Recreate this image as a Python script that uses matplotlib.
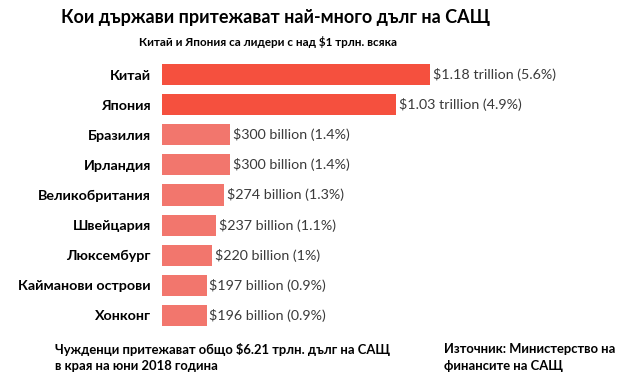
import matplotlib.pyplot as plt

countries = ['Китай', 'Япония', 'Бразилия', 'Ирландия', 'Великобритания',
             'Швейцария', 'Люксембург', 'Кайманови острови', 'Хонконг']
holdings = [1180, 1030, 300, 300, 274, 237, 220, 197, 196]   # billion $
value_labels = ['$1.18 trillion (5.6%)', '$1.03 trillion (4.9%)',
                '$300 billion (1.4%)', '$300 billion (1.4%)',
                '$274 billion (1.3%)', '$237 billion (1.1%)',
                '$220 billion (1%)', '$197 billion (0.9%)',
                '$196 billion (0.9%)']

plt.rcParams['font.family'] = ['Lato', 'Open Sans', 'DejaVu Sans']

fig = plt.figure(figsize=(6.3, 3.78), dpi=100)
ax = fig.add_axes([162/630, 1 - 330.5/378, 468/630, 271/378])

colors = ['#F5503E' if v > 1000 else '#F2766D' for v in holdings]
y = range(len(countries))
ax.barh(y, holdings, height=0.7, color=colors)
ax.set_xlim(0, 2060)
ax.set_ylim(len(countries) - 0.5, -0.5)

for i, (v, lab) in enumerate(zip(holdings, value_labels)):
    ax.text(v + 12, i, lab, va='center', ha='left', fontsize=10.3,
            color='#3a3a3a')

ax.set_yticks(list(y))
ax.set_yticklabels(countries, fontsize=10.3, fontweight='bold')
ax.tick_params(axis='y', length=0, pad=8)
ax.set_xticks([])
for s in ax.spines.values():
    s.set_visible(False)

fig.text(0.438, 1 - 17/378, 'Кои държави притежават най-много дълг на САЩ',
         ha='center', va='center', fontsize=13, fontweight='bold')
fig.text(0.426, 1 - 42/378, 'Китай и Япония са лидери с над $1 трлн. всяка',
         ha='center', va='center', fontsize=8.4, fontweight='bold')

fig.text(55/630, 1 - 349/378, 'Чужденци притежават общо $6.21 трлн. дълг на САЩ',
         ha='left', va='center', fontsize=9.4, fontweight='bold')
fig.text(55/630, 1 - 366/378, 'в края на юни 2018 година',
         ha='left', va='center', fontsize=9.4, fontweight='bold')
fig.text(444/630, 1 - 349/378, 'Източник: Министерство на',
         ha='left', va='center', fontsize=9.4, fontweight='bold')
fig.text(444/630, 1 - 366/378, 'финансите на САЩ',
         ha='left', va='center', fontsize=9.4, fontweight='bold')

fig.savefig('out.png', dpi=100)
